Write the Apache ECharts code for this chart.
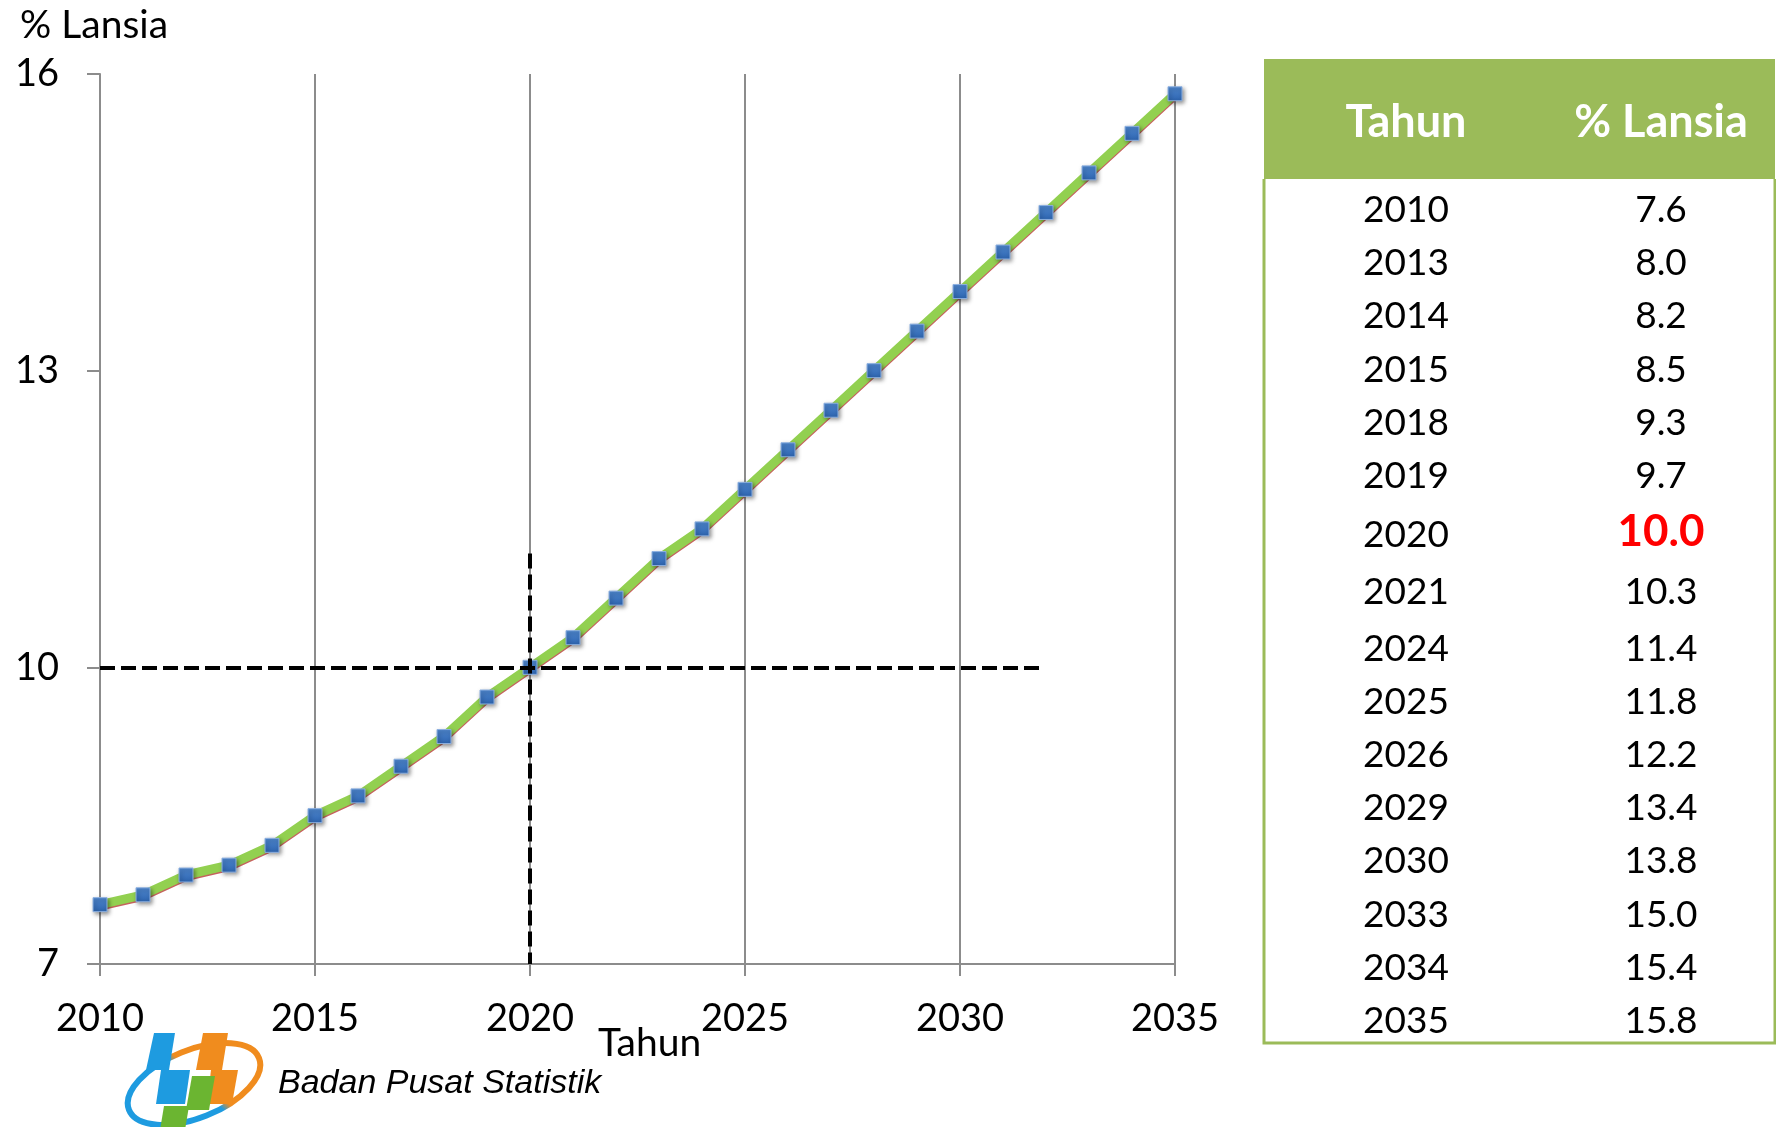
<!DOCTYPE html>
<html>
<head>
<meta charset="utf-8">
<title>% Lansia</title>
<script src="https://cdn.jsdelivr.net/npm/echarts@6/dist/echarts.min.js"></script>
<style>
  html, body { margin: 0; padding: 0; background: #fff; }
  #chart { width: 1776px; height: 1127px; }
</style>
</head>
<body>
<div id="chart"></div>
<script>
// data
const years = [2010, 2011, 2012, 2013, 2014, 2015, 2016, 2017, 2018, 2019, 2020, 2021, 2022,
  2023, 2024, 2025, 2026, 2027, 2028, 2029, 2030, 2031, 2032, 2033, 2034, 2035]
const lansia = [7.6, 7.7, 7.9, 8.0, 8.2, 8.5, 8.7, 9.0, 9.3, 9.7, 10.0, 10.3, 10.7,
  11.1, 11.4, 11.8, 12.2, 12.6, 13.0, 13.4, 13.8, 14.2, 14.6, 15.0, 15.4, 15.8]
const tableYears = [2010, 2013, 2014, 2015, 2018, 2019, 2020, 2021, 2024, 2025, 2026, 2029, 2030, 2033, 2034, 2035]
const tableValues = [7.6, 8.0, 8.2, 8.5, 9.3, 9.7, 10.0, 10.3, 11.4, 11.8, 12.2, 13.4, 13.8, 15.0, 15.4, 15.8]
const highlightYear = 2020
const refValue = 10
const dashHEnd = 2031.9
const dashVTop = 11.15

const FONT = 'Lato, "Open Sans", sans-serif'
const GREEN = '#9BBB59'

const chart = echarts.init(document.getElementById('chart'))

// table drawn as graphic elements
const table = []
const tLeft = 1264, tRight = 1775, tTop = 59, tHead = 179, tBottom = 1043
table.push({
  type: 'rect', shape: { x: tLeft, y: tTop, width: tRight - tLeft, height: tHead - tTop },
  style: { fill: GREEN }
})
table.push({
  type: 'polyline',
  shape: { points: [[tLeft, tHead], [tLeft, tBottom], [tRight, tBottom], [tRight, tHead]] },
  style: { stroke: GREEN, lineWidth: 3, fill: null }
})
table.push({
  type: 'text', x: 1406, y: 122,
  style: { text: 'Tahun', fill: '#fff', font: 'bold 45px ' + FONT, textAlign: 'center', textVerticalAlign: 'middle' }
})
table.push({
  type: 'text', x: 1661, y: 122,
  style: { text: '% Lansia', fill: '#fff', font: 'bold 45px ' + FONT, textAlign: 'center', textVerticalAlign: 'middle' }
})
const hi = tableYears.indexOf(highlightYear)
tableYears.forEach((yr, i) => {
  let y = 210 + i * 53.2
  if (i >= hi) y += 6
  if (i > hi) y += 4
  if (i > hi + 1) y += 3
  const isHi = yr === highlightYear
  table.push({
    type: 'text', x: 1406, y: y,
    style: { text: String(yr), fill: '#000', font: '37px ' + FONT, textAlign: 'center', textVerticalAlign: 'middle' }
  })
  table.push({
    type: 'text', x: 1661, y: isHi ? y - 3 : y,
    style: {
      text: tableValues[i].toFixed(1),
      fill: isHi ? '#FF0000' : '#000',
      font: (isHi ? 'bold 44px ' : '37px ') + FONT,
      textAlign: 'center', textVerticalAlign: 'middle'
    }
  })
})

// BPS logo, rough shapes
const logo = [
  {
    type: 'ellipse', shape: { cx: 0, cy: 0, rx: 70, ry: 34 }, x: 194, y: 1084, rotation: 0.38,
    style: {
      fill: null, lineWidth: 6,
      stroke: new echarts.graphic.LinearGradient(0, 1, 1, 0, [
        { offset: 0, color: '#1E9BE0' }, { offset: 0.5, color: '#1E9BE0' },
        { offset: 0.55, color: '#F08C1E' }, { offset: 1, color: '#F08C1E' }
      ])
    }
  },
  { type: 'polygon', shape: { points: [[154, 1033], [175, 1033], [169, 1070], [146, 1070]] }, style: { fill: '#1E9BE0' } },
  { type: 'polygon', shape: { points: [[161, 1070], [190, 1070], [185, 1104], [156, 1104]] }, style: { fill: '#1E9BE0' } },
  { type: 'polygon', shape: { points: [[203, 1033], [228, 1033], [222, 1070], [196, 1070]] }, style: { fill: '#F08C1E' } },
  { type: 'polygon', shape: { points: [[211, 1070], [238, 1070], [232, 1104], [207, 1104]] }, style: { fill: '#F08C1E' } },
  { type: 'polygon', shape: { points: [[192, 1076], [215, 1076], [209, 1110], [186, 1110]] }, style: { fill: '#6BB531' } },
  { type: 'polygon', shape: { points: [[164, 1106], [189, 1106], [185, 1130], [160, 1130]] }, style: { fill: '#6BB531' } },
  {
    type: 'text', x: 278, y: 1084,
    style: { text: 'Badan Pusat Statistik', fill: '#000', font: 'italic 34px "Liberation Sans", Arial, sans-serif', textVerticalAlign: 'middle' }
  }
]

const titles = [
  { type: 'text', x: 20, y: 25, style: { text: '% Lansia', fill: '#000', font: '39px ' + FONT, textVerticalAlign: 'middle' } },
  { type: 'text', x: 598, y: 1043, style: { text: 'Tahun', fill: '#000', font: '39px ' + FONT, textVerticalAlign: 'middle' } }
]

const option = {
  backgroundColor: '#fff',
  animation: false,
  grid: { left: 100, right: 601, top: 74, bottom: 163, containLabel: false },
  xAxis: {
    type: 'value', min: 2010, max: 2035, interval: 5,
    axisLine: { show: true, lineStyle: { color: '#8c8c8c', width: 2 } },
    axisTick: { show: true, length: 12, lineStyle: { color: '#8c8c8c', width: 2 } },
    axisLabel: { fontSize: 38, fontFamily: FONT, color: '#000', margin: 36, formatter: v => String(v) },
    splitLine: { show: true, lineStyle: { color: '#8c8c8c', width: 2 } }
  },
  yAxis: {
    type: 'value', min: 7, max: 16, interval: 3,
    axisLine: { show: true, lineStyle: { color: '#8c8c8c', width: 2 } },
    axisTick: { show: true, length: 13, lineStyle: { color: '#8c8c8c', width: 2 } },
    axisLabel: { fontSize: 38, fontFamily: FONT, color: '#000', margin: 41 },
    splitLine: { show: false }
  },
  series: [
    {
      type: 'line', z: 1, silent: true,
      data: [],
      markLine: {
        silent: true, symbol: 'none', label: { show: false },
        lineStyle: { color: '#000', width: 4, type: [15, 6] },
        data: [
          [{ coord: [2010, refValue] }, { coord: [dashHEnd, refValue] }],
          [{ coord: [highlightYear, dashVTop] }, { coord: [highlightYear, 7] }]
        ]
      }
    },
    {
      name: '% Lansia',
      type: 'line', z: 3,
      data: years.map((y, i) => [y, lansia[i]]),
      symbol: 'rect', symbolSize: 14,
      lineStyle: {
        color: '#92D050', width: 9,
        shadowColor: 'rgba(192,80,77,0.9)', shadowBlur: 0, shadowOffsetY: 1.5
      },
      itemStyle: {
        color: new echarts.graphic.LinearGradient(0, 0, 0, 1, [
          { offset: 0, color: '#4F88D0' }, { offset: 1, color: '#2C63AE' }
        ]),
        borderColor: '#8DB0E0', borderWidth: 1,
        shadowColor: 'rgba(0,0,0,0.4)', shadowBlur: 4, shadowOffsetX: 1.5, shadowOffsetY: 2
      }
    }
  ],
  graphic: [].concat(titles, table, logo)
}

chart.setOption(option)
</script>
</body>
</html>
